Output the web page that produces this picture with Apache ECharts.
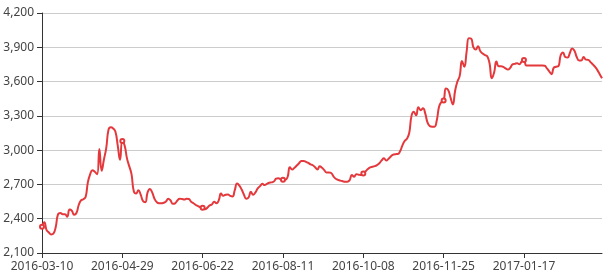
<!DOCTYPE html>
<html>
<head>
<meta charset="utf-8">
<script src="https://cdn.jsdelivr.net/npm/echarts@6/dist/echarts.min.js"></script>
<style>
html,body{margin:0;padding:0;background:#fff;}
#main{width:609px;height:280px;}
</style>
</head>
<body>
<div id="main"></div>
<script>
// Trading-day categories, listed month by month
const days2016_03 = [10,11,14,15,16,17,18,21,22,23,24,25,28,29,30,31];
const days2016_04 = [1,5,6,7,8,11,12,13,14,15,18,19,20,21,22,25,26,27,28,29];
const days2016_05 = [3,4,5,6,9,10,11,12,13,16,17,18,19,20,23,24,25,26,27,30,31];
const days2016_06 = [1,2,3,6,7,8,13,14,15,16,17,20,21,22,23,24,27,28,29,30];
const days2016_07 = [4,5,6,7,8,11,12,13,14,15,18,19,20,21,22,25,26,27,28,29];
const days2016_08 = [1,2,3,4,5,8,9,10,11,12,15,16,17,18,19,22,23,24,25,26,29,30,31];
const days2016_09 = [1,2,5,6,7,8,9,12,13,14,19,20,21,22,23,26,27,28,29,30];
const days2016_10 = [8,10,11,12,13,14,17,18,19,20,21,24,25,26,27,28,31];
const days2016_11 = [1,2,3,4,7,8,9,10,11,14,15,16,17,18,21,22,23,24,25,28,29,30];
const days2016_12 = [1,2,5,6,7,8,9,12,13,14,15,16,19,20,21,22,23,27,28,29,30];
const days2017_01 = [3,4,5,6,9,10,11,12,13,16,17,18,19,20,23,24,25,26];
const days2017_02 = [3,6,7,8,9,10,13,14,15,16,17,20,21,22,23,24,27,28];
const days2017_03 = [1,2,3,6,7,8,9,10,13];

// Price values, in segments of 35 trading days
const seg1 = [2330,2370,2300,2280,2262,2270,2330,2440,2450,2440,2440,2418,2480,2470,2435,2450,2520,2560,2570,2590,2720,2790,2825,2810,2790,3010,2820,2920,3020,3180,3200,3190,3160,3040,2915];
const seg2 = [3080,3040,2930,2860,2790,2640,2620,2650,2610,2555,2545,2630,2660,2630,2575,2545,2535,2535,2540,2550,2575,2560,2530,2535,2560,2575,2572,2568,2575,2572,2548,2535,2520,2510,2500];
const seg3 = [2495,2482,2495,2515,2525,2549,2535,2560,2620,2600,2610,2612,2600,2595,2650,2708,2690,2655,2610,2575,2585,2636,2610,2630,2665,2685,2705,2695,2705,2715,2718,2725,2750,2755,2745];
const seg4 = [2740,2740,2765,2850,2830,2845,2865,2885,2905,2905,2898,2888,2875,2868,2850,2830,2860,2845,2825,2805,2805,2800,2770,2750,2740,2733,2728,2724,2724,2735,2782,2768,2790,2785,2782];
const seg5 = [2795,2815,2835,2850,2855,2860,2870,2885,2910,2928,2910,2925,2945,2960,2965,2966,2990,3040,3080,3100,3150,3300,3335,3305,3375,3350,3366,3320,3240,3210,3205,3205,3260,3380,3420];
const seg6 = [3435,3540,3525,3460,3400,3520,3600,3650,3780,3730,3860,3980,3975,3900,3880,3910,3865,3845,3832,3822,3760,3630,3680,3775,3735,3735,3728,3715,3705,3720,3750,3755,3760,3752,3775];
const seg7 = [3789,3740,3740,3740,3740,3740,3740,3740,3740,3738,3715,3690,3665,3722,3730,3735,3830,3855,3815,3810,3850,3890,3870,3815,3785,3785,3815,3792,3790,3770,3750,3728,3700,3665,3630];

const yTicks = {min: 2100, max: 4200, interval: 300};

function pad(n){ return (n < 10 ? '0' : '') + n; }
const monthLists = [
  ['2016-03', days2016_03], ['2016-04', days2016_04], ['2016-05', days2016_05],
  ['2016-06', days2016_06], ['2016-07', days2016_07], ['2016-08', days2016_08],
  ['2016-09', days2016_09], ['2016-10', days2016_10], ['2016-11', days2016_11],
  ['2016-12', days2016_12], ['2017-01', days2017_01], ['2017-02', days2017_02],
  ['2017-03', days2017_03]
];
const categories = [];
monthLists.forEach(function (m) {
  m[1].forEach(function (d) { categories.push(m[0] + '-' + pad(d)); });
});
const values = [].concat(seg1, seg2, seg3, seg4, seg5, seg6, seg7);

const chart = echarts.init(document.getElementById('main'), null, {renderer: 'canvas'});
const lineColor = '#e4393c';
chart.setOption({
  animation: false,
  textStyle: {fontFamily: '"Microsoft YaHei", "Noto Sans", sans-serif'},
  grid: {left: 42, right: 7, top: 13, bottom: 27, containLabel: false, outerBoundsMode: 'none'},
  xAxis: {
    type: 'category',
    boundaryGap: false,
    data: categories,
    axisLine: {show: true, lineStyle: {color: '#333', width: 1}},
    axisTick: {show: true, interval: 34, length: 5, lineStyle: {color: '#333'}},
    axisLabel: {interval: 34, color: '#444', fontSize: 12, margin: 8},
    splitLine: {show: false}
  },
  yAxis: {
    type: 'value',
    min: yTicks.min,
    max: yTicks.max,
    interval: yTicks.interval,
    axisLine: {show: true, lineStyle: {color: '#333', width: 1}},
    axisTick: {show: true, length: 5, lineStyle: {color: '#333'}},
    axisLabel: {color: '#444', fontSize: 12, margin: 8},
    splitLine: {show: true, lineStyle: {color: '#ccc', width: 1}}
  },
  series: [{
    type: 'line',
    data: values,
    smooth: true,
    symbol: 'emptyCircle',
    symbolSize: 4,
    showSymbol: true,
    lineStyle: {color: lineColor, width: 2},
    itemStyle: {color: lineColor}
  }]
});
</script>
</body>
</html>
